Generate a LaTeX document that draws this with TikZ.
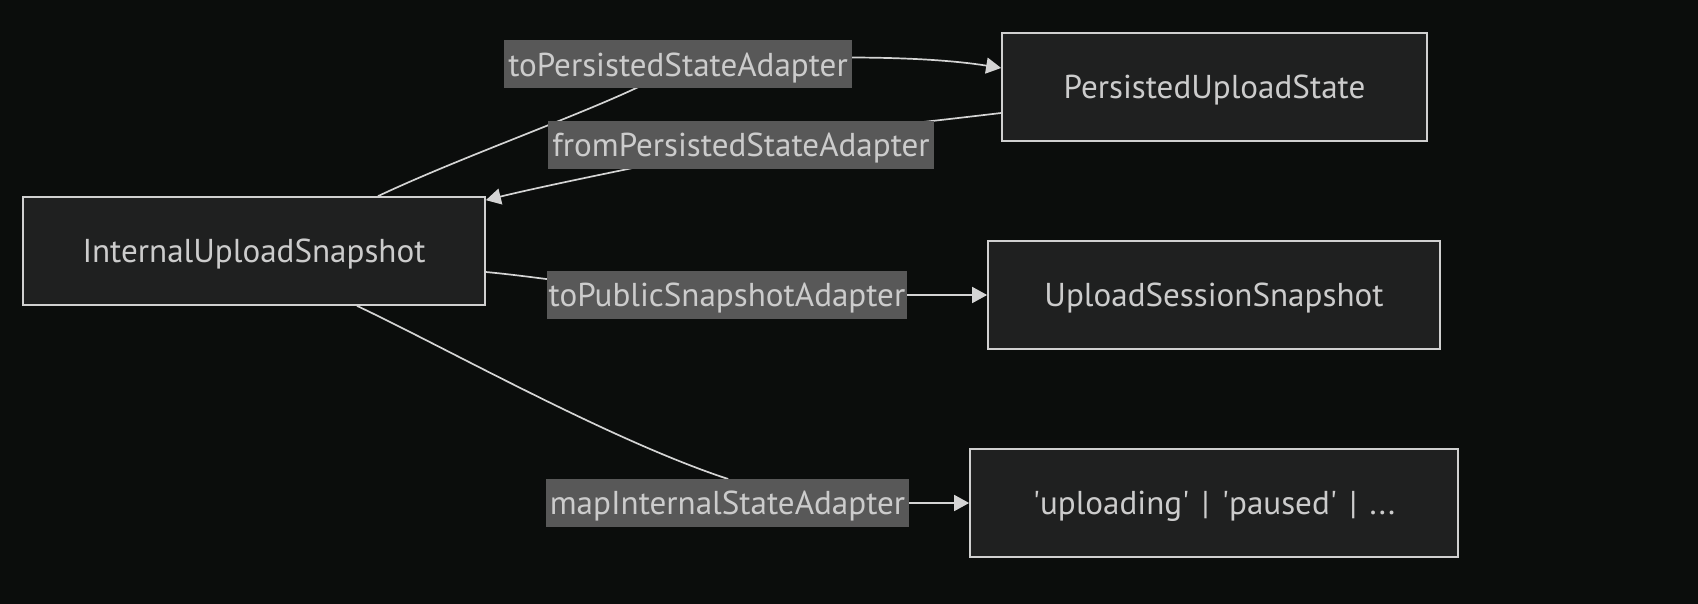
\documentclass[tikz,border=0pt]{standalone}
\usepackage{fontspec}
\setmainfont{PT Sans}
\usetikzlibrary{calc,arrows.meta}
\definecolor{bgc}{RGB}{11,13,12}
\definecolor{boxfill}{RGB}{31,32,32}
\definecolor{boxline}{RGB}{208,208,208}
\definecolor{lblfill}{RGB}{88,88,88}
\definecolor{txt}{RGB}{204,204,204}
\definecolor{edgec}{RGB}{212,212,212}
\pgfdeclarelayer{bglayer}
\pgfdeclarelayer{edgelayer}
\pgfsetlayers{bglayer,edgelayer,main}
\begin{document}
\begin{tikzpicture}[x=1bp,y=-1bp,
  txtfont/.style={font=\fontsize{33.1bp}{38bp}\selectfont, text height=23.2bp, text depth=0pt},
  box/.style={txtfont, draw=boxline, line width=1.7bp, fill=boxfill, text=txt, minimum height=108bp, inner sep=0pt},
  lbl/.style={txtfont, fill=lblfill, text=txt, minimum height=48bp, inner sep=0pt},
  conn/.style={draw=edgec, line width=1.7bp},
  arr/.style={conn, -{Triangle[length=15bp,width=16bp]}}
]
\useasboundingbox (0,0) rectangle (1698,604);
\begin{pgfonlayer}{bglayer}
  \fill[bgc] (0,0) rectangle (1698,604);
\end{pgfonlayer}

\node[box, minimum width=462bp] (A) at (254,251) {InternalUploadSnapshot};
\node[box, minimum width=425bp] (B) at (1214.5,87) {PersistedUploadState};
\node[box, minimum width=452bp] (C) at (1214,295) {UploadSessionSnapshot};
\node[box, minimum width=488bp] (D) at (1214,503) {\textquotesingle uploading\textquotesingle\hspace{3.5bp} | \hspace{3.5bp}\textquotesingle paused\textquotesingle\hspace{3.5bp} | \hspace{3.5bp}...};

\node[lbl, minimum width=348bp] (L1) at (678,64.5) {toPersistedStateAdapter};
\node[lbl, minimum width=386bp] (L2) at (741,145) {fromPersistedStateAdapter};
\node[lbl, minimum width=360bp] (L3) at (727,295) {toPublicSnapshotAdapter};
\node[lbl, minimum width=363bp] (L4) at (727.5,503) {mapInternalStateAdapter};

\begin{pgfonlayer}{edgelayer}
  \draw[arr] ($(A.north)+(124,0)$) .. controls (480,148) and (640,95) .. (L1.center)
             .. controls (800,55) and (920,55) .. ($(B.west)+(0,-19)$);
  \draw[arr] ($(B.west)+(0,26)$) .. controls (900,125) and (800,135) .. (L2.center)
             .. controls (690,157) and (560,182) .. ($(A.north east)+(0,4)$);
  \draw[arr] ($(A.east)+(0,21)$) .. controls (560,279) and (640,295) .. (L3.center) -- (C.west);
  \draw[arr] ($(A.south)+(103,0)$) .. controls (450,350) and (610,440) .. (L4.north)
             -- (L4.center) -- (D.west);
\end{pgfonlayer}
\end{tikzpicture}
\end{document}
